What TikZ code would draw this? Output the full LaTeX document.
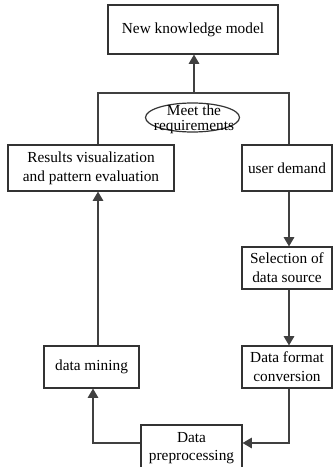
\documentclass[tikz,border=0pt]{standalone}
\usepackage{fontspec}
\setmainfont{Liberation Serif}
\usetikzlibrary{shapes.geometric,arrows.meta}

\tikzset{
  box/.style={draw=black!80, line width=0.9pt, inner sep=0pt, align=center,
    font=\fontsize{11.5}{14}\selectfont, text=black},
  link/.style={draw=black!75, line width=0.9pt},
  arr/.style={link, -{Triangle[length=7pt,width=8pt]}},
}

\begin{document}
\begin{tikzpicture}[x=0.75pt, y=-0.75pt]
  \path[use as bounding box, clip] (0,0) rectangle (333,467);

  % boxes (positions in a 333 x 467 grid, y downwards)
  \node[box, minimum width=170*0.75pt, minimum height=49*0.75pt] (model) at (193,29.5) {New knowledge model};
  \node[box, minimum width=166*0.75pt, minimum height=46*0.75pt] (vis) at (91,168) {Results visualization\\and pattern evaluation};
  \node[box, minimum width=90*0.75pt, minimum height=46*0.75pt] (user) at (287,168) {user demand};
  \node[box, minimum width=90*0.75pt, minimum height=42*0.75pt] (sel) at (287,268) {Selection of\\data source};
  \node[box, minimum width=90*0.75pt, minimum height=42*0.75pt] (conv) at (287,367) {Data format\\conversion};
  \node[box, minimum width=101*0.75pt, minimum height=46*0.75pt] (pre) at (191.5,448) {Data\\preprocessing};
  \node[box, minimum width=95*0.75pt, minimum height=42*0.75pt] (mine) at (91.5,367) {data mining};

  % decision ellipse with its overflowing caption
  \node[ellipse, draw=black!80, line width=0.9pt, minimum width=94*0.75pt, minimum height=29*0.75pt, inner sep=0pt] (req) at (192.5,117.5) {};
  \node[align=center, inner sep=0pt, font=\fontsize{11.5}{11.5}\selectfont, text=black] (reqtxt) at (194,119.5) {Meet the\\requirements};

  % column guides for the connectors
  \coordinate (colL) at (98,0);
  \coordinate (colR) at (289,0);
  \coordinate (colM) at (194,0);
  \coordinate (colD) at (93,0);
  \coordinate (top) at (0,93);
  \coordinate (lowY) at (0,443);

  % frame joining the two upper boxes
  \draw[link] (vis.north -| colL) |- (top -| colR) -- (user.north -| colR);
  \draw[arr] (top -| colM) -- (model.south -| colM);

  % right-hand chain
  \draw[arr] (user.south -| colR) -- (sel.north -| colR);
  \draw[arr] (sel.south -| colR) -- (conv.north -| colR);
  \draw[arr] (conv.south -| colR) |- (pre.east |- lowY);

  % left-hand chain
  \draw[arr] (pre.west |- lowY) -| (mine.south -| colD);
  \draw[arr] (mine.north -| colL) -- (vis.south -| colL);
\end{tikzpicture}
\end{document}
